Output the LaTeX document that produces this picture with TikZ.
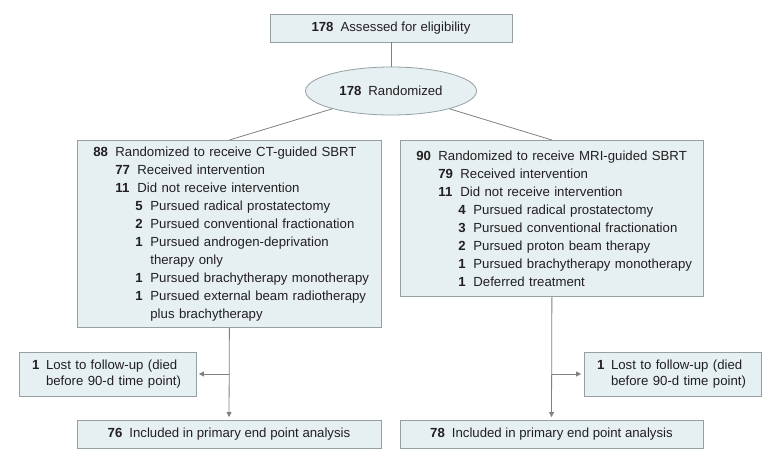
\documentclass[tikz,border=0pt]{standalone}
\usepackage{fontspec}
\setmainfont{Liberation Sans}
\usetikzlibrary{arrows.meta,shapes.geometric}
\definecolor{boxfill}{RGB}{230,240,243}
\definecolor{boxline}{RGB}{150,160,163}
\definecolor{connc}{RGB}{128,128,128}
\definecolor{txt}{RGB}{35,31,32}
\newcommand{\nA}[2]{\mbox{\makebox[22pt][l]{\bfseries #1}#2}}
\newcommand{\nB}[2]{\mbox{\hspace*{22pt}\makebox[22pt][l]{\bfseries #1}#2}}
\newcommand{\nC}[2]{\mbox{\hspace*{42pt}\makebox[15pt][l]{\bfseries #1}#2}}
\newcommand{\nCc}[1]{\mbox{\hspace*{57pt}#1}}
\begin{document}
\begin{tikzpicture}[x=1pt,y=-1pt,
  box/.style={draw=boxline,fill=boxfill,line width=0.8pt,text=txt,font=\fontsize{13.2}{18}\selectfont},
  listbox/.style={box,anchor=north west,align=left,inner xsep=16pt,inner ysep=0pt},
  lostbox/.style={box,font=\fontsize{13.2}{16.5}\selectfont,align=left,inner xsep=13pt,inner ysep=0pt,text width=151pt,minimum width=177pt,minimum height=44pt},
  endbox/.style={box,inner sep=0pt,minimum height=28pt},
  conn/.style={draw=connc,line width=0.8pt},
  arr/.style={conn,-{Triangle[length=5pt,width=5pt]},shorten >=2.5pt}]
\useasboundingbox (0,0) rectangle (780,463);

\node[box,minimum width=242pt,minimum height=28pt,inner sep=0pt] (assess) at (391,28) {\textbf{178}\hspace{7pt}Assessed for eligibility};
\node[box,ellipse,minimum width=171pt,minimum height=48pt,inner sep=0pt] (rand) at (391,91) {\textbf{178}\hspace{7pt}Randomized};

\node[listbox,minimum width=304pt,minimum height=187pt,text width=272pt] (L) at (77,140) {%
\nA{88}{Randomized to receive CT-guided SBRT}\\
\nB{77}{Received intervention}\\
\nB{11}{Did not receive intervention}\\
\nC{5}{Pursued radical prostatectomy}\\
\nC{2}{Pursued conventional fractionation}\\
\nC{1}{Pursued androgen-deprivation}\\
\nCc{therapy only}\\
\nC{1}{Pursued brachytherapy monotherapy}\\
\nC{1}{Pursued external beam radiotherapy}\\
\nCc{plus brachytherapy}};

\node[listbox,minimum width=303pt,minimum height=156pt,text width=271pt] (R) at (400,140) {%
\nA{90}{Randomized to receive MRI-guided SBRT}\\
\nB{79}{Received intervention}\\
\nB{11}{Did not receive intervention}\\
\nC{4}{Pursued radical prostatectomy}\\
\nC{3}{Pursued conventional fractionation}\\
\nC{2}{Pursued proton beam therapy}\\
\nC{1}{Pursued brachytherapy monotherapy}\\
\nC{1}{Deferred treatment}};

\node[lostbox] (lostL) at (107.5,374) {\mbox{\makebox[14pt][l]{\bfseries 1}Lost to follow-up (died}\\\mbox{\hspace*{14pt}before 90-d time point)}};
\node[lostbox] (lostR) at (672.5,374) {\mbox{\makebox[14pt][l]{\bfseries 1}Lost to follow-up (died}\\\mbox{\hspace*{14pt}before 90-d time point)}};

\node[endbox,minimum width=304pt] (endL) at (229,434) {\textbf{76}\hspace{7pt}Included in primary end point analysis};
\node[endbox,minimum width=303pt] (endR) at (551.5,434) {\textbf{78}\hspace{7pt}Included in primary end point analysis};

\draw[conn] (assess) -- (rand);
\draw[conn] (rand) -- (L.north);
\draw[conn] (rand) -- (R.north);
\coordinate (jL) at (L.south |- lostL.east);
\coordinate (jR) at (R.south |- lostR.west);
\draw[arr] (L.south) -- (endL.north);
\draw[arr] (R.south) -- (endR.north);
\draw[arr] (jL) -- (lostL.east);
\draw[arr] (jR) -- (lostR.west);
\end{tikzpicture}
\end{document}
